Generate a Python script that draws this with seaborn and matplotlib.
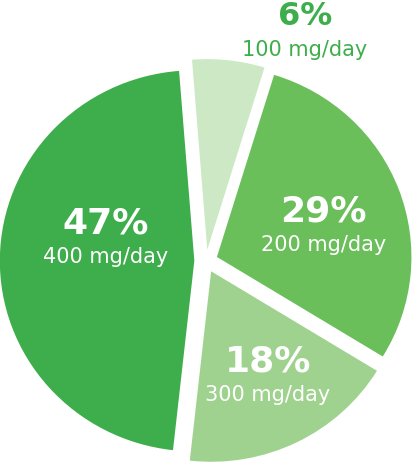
import seaborn as sns
import matplotlib.pyplot as plt
import numpy as np

# --- data ---
shares = [6, 29, 18, 47]
doses = ["100 mg/day", "200 mg/day", "300 mg/day", "400 mg/day"]
pct_labels = ["6%", "29%", "18%", "47%"]
colors = ["#cde8c5", "#6abf5a", "#a0d28f", "#3dae4b"]

# label placement (polar: radius, angle in degrees) and styling
label_pos = [(1.30, 67.0), (0.63, 16), (0.69, -62.6), (0.53, 168)]
label_color = ["#3dae4b", "white", "white", "white"]
pct_size = [23, 26, 26, 26]

sns.set_theme(style="white")
plt.rcParams['font.family'] = ['DejaVu Sans']

fig = plt.figure(figsize=(4.14, 4.63), dpi=100)
ax = fig.add_axes([0, 0, 1, 1])

ax.pie(shares, colors=sns.color_palette(colors), startangle=94.5,
       counterclock=False, explode=[0.06] * len(shares),
       wedgeprops=dict(linewidth=0))

for (r, ang), pct, dose, col, fs in zip(label_pos, pct_labels, doses, label_color, pct_size):
    x = r * np.cos(np.radians(ang))
    y = r * np.sin(np.radians(ang))
    ax.text(x, y + 0.085, pct, ha="center", va="center", color=col,
            fontsize=fs, fontweight="bold")
    ax.text(x, y - 0.09, dose, ha="center", va="center", color=col, fontsize=15)

# px per unit and pie center in pixels
sx, sy = 194.5, 190.5
cx, cy = 206, 261
ax.set_xlim(-cx / sx, (414 - cx) / sx)
ax.set_ylim(-(463 - cy) / sy, cy / sy)
ax.set_aspect("auto")
ax.axis("off")

fig.savefig("out.png", dpi=100)
